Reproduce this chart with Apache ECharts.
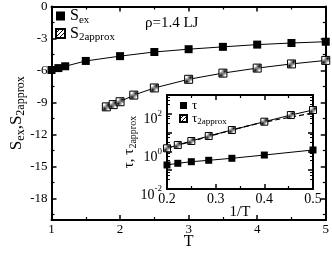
<!DOCTYPE html>
<html><head><meta charset="utf-8">
<script src="https://cdn.jsdelivr.net/npm/echarts@6/dist/echarts.min.js"></script>
<style>html,body{margin:0;padding:0;background:#fff}#c{width:332px;height:255px}</style>
</head><body><div id="c"></div>
<script>
// ---- data ----
const T_ex = [1, 1.1, 1.2, 1.5, 2, 2.5, 3, 3.5, 4, 4.5, 5];
const S_ex = [-5.95, -5.77, -5.6, -5.1, -4.65, -4.26, -4.0, -3.78, -3.57, -3.42, -3.3];
const T_2 = [1.8, 1.9, 2.0, 2.2, 2.5, 3, 3.5, 4, 4.5, 5];
const S_2 = [-9.4, -9.19, -8.92, -8.3, -7.63, -6.82, -6.24, -5.77, -5.38, -5.05];
const invT_tau = [0.2, 0.2222, 0.25, 0.2857, 0.3333, 0.4, 0.5];
const tau = [0.19, 0.233, 0.283, 0.336, 0.43, 0.64, 1.19];
const invT_tau2 = [0.2, 0.2222, 0.25, 0.2857, 0.3333, 0.4, 0.4545, 0.5];
const tau2 = [1.46, 2.19, 3.57, 6.6, 13.7, 38, 86, 159];
const invT_fit = [0.2, 0.3333, 0.4, 0.5];
const tau2_fit = [1.46, 13.7, 36, 110];
const mainXTicks = [1, 2, 3, 4, 5];
const mainYTicks = [0, -3, -6, -9, -12, -15, -18];
const insetXTicks = [0.2, 0.3, 0.4, 0.5];
const insetYTickExp = [-2, 0, 2];

// ---- hatch pattern ----
const pc = document.createElement('canvas'); pc.width = 4; pc.height = 4;
const g = pc.getContext('2d');
g.fillStyle = '#fff'; g.fillRect(0, 0, 4, 4);
g.strokeStyle = '#000'; g.lineWidth = 1;
g.beginPath(); g.moveTo(0, 4); g.lineTo(4, 0); g.moveTo(-1, 1); g.lineTo(1, -1); g.moveTo(3, 5); g.lineTo(5, 3); g.stroke();
const hatch = { image: pc, repeat: 'repeat' };

const FONT = 'Liberation Serif';
const zip = (a, b) => a.map((v, i) => [v, b[i]]);

function baseAxis(extra) {
  return Object.assign({
    axisLine: { show: true, onZero: false, lineStyle: { color: '#000', width: 2 } },
    axisTick: { show: true, inside: true, length: 5, lineStyle: { color: '#000', width: 1.5 } },
    minorTick: { show: true, splitNumber: 2, length: 3, lineStyle: { color: '#000', width: 1.2 } },
    splitLine: { show: false },
    nameMoveOverlap: false,
    axisLabel: { color: '#000', fontFamily: FONT, fontSize: 13 }
  }, extra);
}
const richSub = (mSize, sSize) => ({
  m: { fontFamily: FONT, fontSize: mSize, color: '#000', lineHeight: mSize + 3 },
  s: { fontFamily: FONT, fontSize: sSize, color: '#000', lineHeight: sSize, verticalAlign: 'bottom' }
});

const chart = echarts.init(document.getElementById('c'), null, { renderer: 'canvas' });
const option = {
  animation: false,
  backgroundColor: '#fff',
  grid: [
    { left: 45, top: 5, right: 4, bottom: 28 },
    { left: 167, top: 95, width: 146, height: 94, show: true, backgroundColor: '#fff', borderWidth: 0, z: 5 }
  ],
  xAxis: [
    baseAxis({ type: 'value', gridIndex: 0, position: 'bottom', min: 1, max: 5, interval: 1,
      axisLabel: { color: '#000', fontFamily: FONT, fontSize: 13, margin: 3, formatter: v => mainXTicks.includes(v) ? String(v) : '' },
      name: 'T', nameLocation: 'middle', nameGap: 14,
      nameTextStyle: { fontFamily: FONT, fontSize: 16, color: '#000', verticalAlign: 'top' } }),
    baseAxis({ type: 'value', gridIndex: 0, position: 'top', min: 1, max: 5, interval: 1, axisLabel: { show: false } }),
    baseAxis({ type: 'value', gridIndex: 1, position: 'bottom', min: 0.2, max: 0.5, interval: 0.1, z: 6,
      axisLabel: { color: '#000', fontFamily: FONT, fontSize: 14, margin: 3, formatter: v => insetXTicks.some(t => Math.abs(t - v) < 1e-6) ? v.toFixed(1) : '' },
      name: '1/T', nameLocation: 'middle', nameGap: 16,
      nameTextStyle: { fontFamily: FONT, fontSize: 15, color: '#000', verticalAlign: 'top' } }),
    baseAxis({ type: 'value', gridIndex: 1, position: 'top', min: 0.2, max: 0.5, interval: 0.1, z: 6, axisLabel: { show: false } })
  ],
  yAxis: [
    baseAxis({ type: 'value', gridIndex: 0, position: 'left', min: 0, max: 20, interval: 3, inverse: true,
      axisLabel: { color: '#000', fontFamily: FONT, fontSize: 13, margin: 4, showMaxLabel: false,
        formatter: v => { const s = -v; return mainYTicks.includes(s) ? (s === 0 ? '0' : String(s)) : ''; } },
      name: '{m|S}{s|ex}{m|,S}{s|2approx}', nameLocation: 'middle', nameRotate: 90, nameGap: 25,
      nameTextStyle: { rich: richSub(17, 12) } }),
    baseAxis({ type: 'value', gridIndex: 0, position: 'right', min: 0, max: 20, interval: 3, inverse: true, axisLabel: { show: false } }),
    baseAxis({ type: 'log', logBase: 10, gridIndex: 1, position: 'left', min: 0.01, max: 1000, z: 6,
      minorTick: { show: true, splitNumber: 4, length: 3, lineStyle: { color: '#000', width: 1 } },
      axisLabel: { color: '#000', margin: 5, showMaxLabel: false,
        formatter: v => { const e = Math.round(Math.log10(v)); return insetYTickExp.includes(e) ? '{b|10}{p|' + e + '}' : ''; },
        rich: {
          b: { fontFamily: FONT, fontSize: 14, color: '#000', lineHeight: 14, verticalAlign: 'bottom' },
          p: { fontFamily: FONT, fontSize: 9, color: '#000', lineHeight: 26 }
        } },
      name: '{m|τ, τ}{s|2approx}', nameLocation: 'middle', nameRotate: 90, nameGap: 29,
      nameTextStyle: { rich: richSub(15, 10) } }),
    baseAxis({ type: 'log', logBase: 10, gridIndex: 1, position: 'right', min: 0.01, max: 1000, z: 6,
      minorTick: { show: true, splitNumber: 4, length: 3, lineStyle: { color: '#000', width: 1 } },
      axisLabel: { show: false } })
  ],
  legend: [
    { left: 55, top: 8, orient: 'vertical', itemWidth: 9, itemHeight: 9, itemGap: 0, icon: 'rect',
      data: ['S_ex', 'S_2approx'],
      formatter: n => n === 'S_ex' ? '{m|S}{s|ex}' : '{m|S}{s|2approx}',
      textStyle: { rich: richSub(16, 11) }, padding: 0 },
    { left: 179, top: 99, orient: 'vertical', itemWidth: 7, itemHeight: 7, itemGap: 0, icon: 'rect', z: 7,
      data: ['τ', 'τ_2approx'],
      formatter: n => n === 'τ' ? '{m|τ}' : '{m|τ}{s|2approx}',
      textStyle: { rich: richSub(13, 9) }, padding: 0 }
  ],
  graphic: [
    { type: 'text', left: 145, top: 16, style: { text: 'ρ=1.4 LJ', font: '15px "Liberation Serif"', fill: '#000' } }
  ],
  series: [
    { name: 'S_ex', type: 'line', xAxisIndex: 0, yAxisIndex: 0, data: zip(T_ex, S_ex.map(v => -v)),
      symbol: 'rect', symbolSize: 8, lineStyle: { color: '#000', width: 1 },
      itemStyle: { color: '#000', borderColor: '#000', borderWidth: 0 } },
    { name: 'S_2approx', type: 'line', xAxisIndex: 0, yAxisIndex: 0, data: zip(T_2, S_2.map(v => -v)),
      symbol: 'rect', symbolSize: 8, lineStyle: { color: '#000', width: 1 },
      itemStyle: { color: hatch, borderColor: '#000', borderWidth: 1 } },
    { name: 'τ_fit', type: 'line', xAxisIndex: 2, yAxisIndex: 2, data: zip(invT_fit, tau2_fit), z: 7,
      symbol: 'none', smooth: 0.3, lineStyle: { color: '#000', width: 1.2, type: [5, 3] } },
    { name: 'τ', type: 'line', xAxisIndex: 2, yAxisIndex: 2, data: zip(invT_tau, tau), z: 8,
      symbol: 'rect', symbolSize: 7, lineStyle: { color: '#000', width: 1 },
      itemStyle: { color: '#000', borderColor: '#000', borderWidth: 0 } },
    { name: 'τ_2approx', type: 'line', xAxisIndex: 2, yAxisIndex: 2, data: zip(invT_tau2, tau2), z: 8,
      symbol: 'rect', symbolSize: 7, lineStyle: { color: '#000', width: 1 },
      itemStyle: { color: hatch, borderColor: '#000', borderWidth: 1 } }
  ]
};
chart.setOption(option);
</script>
</body></html>
